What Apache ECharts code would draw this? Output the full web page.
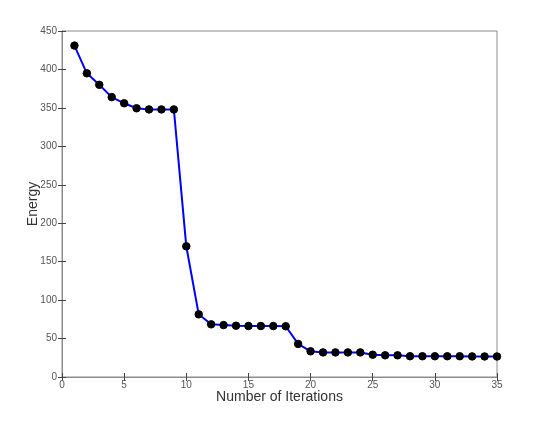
<!DOCTYPE html>
<html>
<head>
<meta charset="utf-8">
<script src="https://cdn.jsdelivr.net/npm/echarts@6/dist/echarts.min.js"></script>
<style>
  html, body { margin: 0; padding: 0; background: #fff; }
  #chart { width: 550px; height: 424px; }
</style>
</head>
<body>
<div id="chart"></div>
<script>
// iteration numbers and energy values
const iterations = [1, 2, 3, 4, 5, 6, 7, 8, 9, 10, 11, 12, 13, 14, 15, 16, 17, 18,
  19, 20, 21, 22, 23, 24, 25, 26, 27, 28, 29, 30, 31, 32, 33, 34, 35];
const energy = [431, 395, 380, 364, 356, 349.5, 348, 348, 348, 170, 81.5, 68.5, 67.5, 66.7, 66.3, 66.3, 66.3, 66,
  43, 33.4, 32, 32, 32, 32, 29, 28.2, 28.2, 27, 27, 27, 27, 27, 26.8, 26.7, 26.7];

const font = 'Liberation Sans, Arial, Helvetica, sans-serif';
const axisGray = '#8c8c8c';
const labelColor = '#333';
const tickLabelColor = '#555';

const chart = echarts.init(document.getElementById('chart'));

const points = iterations.map((x, i) => [x, energy[i]]);

// ticks drawn inside the box, like the original
const tickStyle = { show: true, inside: true, length: 4, lineStyle: { color: '#444', width: 1 } };

chart.setOption({
  animation: false,
  grid: {
    left: 62,
    right: 53,
    top: 31,
    bottom: 47,
    show: true,
    borderColor: axisGray,
    borderWidth: 1
  },
  xAxis: [
    {
      type: 'value',
      min: 0,
      max: 35,
      interval: 5,
      name: 'Number of Iterations',
      nameLocation: 'middle',
      nameGap: 13,
      nameMoveOverlap: false,
      nameTextStyle: { fontFamily: font, fontSize: 14, color: labelColor },
      axisLine: { show: true, lineStyle: { color: axisGray, width: 1 } },
      axisTick: tickStyle,
      axisLabel: { fontFamily: font, fontSize: 10, color: tickLabelColor, margin: 3 },
      splitLine: { show: false }
    },
    {
      type: 'value',
      position: 'top',
      min: 0,
      max: 35,
      interval: 5,
      axisLine: { show: true, lineStyle: { color: axisGray, width: 1 } },
      axisTick: tickStyle,
      axisLabel: { show: false },
      splitLine: { show: false }
    }
  ],
  yAxis: [
    {
      type: 'value',
      min: 0,
      max: 450,
      interval: 50,
      name: 'Energy',
      nameLocation: 'middle',
      nameGap: 22,
      nameMoveOverlap: false,
      nameTextStyle: { fontFamily: font, fontSize: 14, color: labelColor },
      axisLine: { show: true, lineStyle: { color: axisGray, width: 1 } },
      axisTick: tickStyle,
      axisLabel: { fontFamily: font, fontSize: 10, color: tickLabelColor, margin: 5 },
      splitLine: { show: false }
    },
    {
      type: 'value',
      position: 'right',
      min: 0,
      max: 450,
      interval: 50,
      axisLine: { show: true, lineStyle: { color: axisGray, width: 1 } },
      axisTick: tickStyle,
      axisLabel: { show: false },
      splitLine: { show: false }
    }
  ],
  series: [
    {
      type: 'line',
      data: points,
      xAxisIndex: 0,
      yAxisIndex: 0,
      lineStyle: { color: '#0000ff', width: 2 },
      symbol: 'circle',
      symbolSize: 7.5,
      itemStyle: { color: '#000', borderColor: '#000' },
      showAllSymbol: true,
      clip: false
    }
  ]
});
</script>
</body>
</html>
